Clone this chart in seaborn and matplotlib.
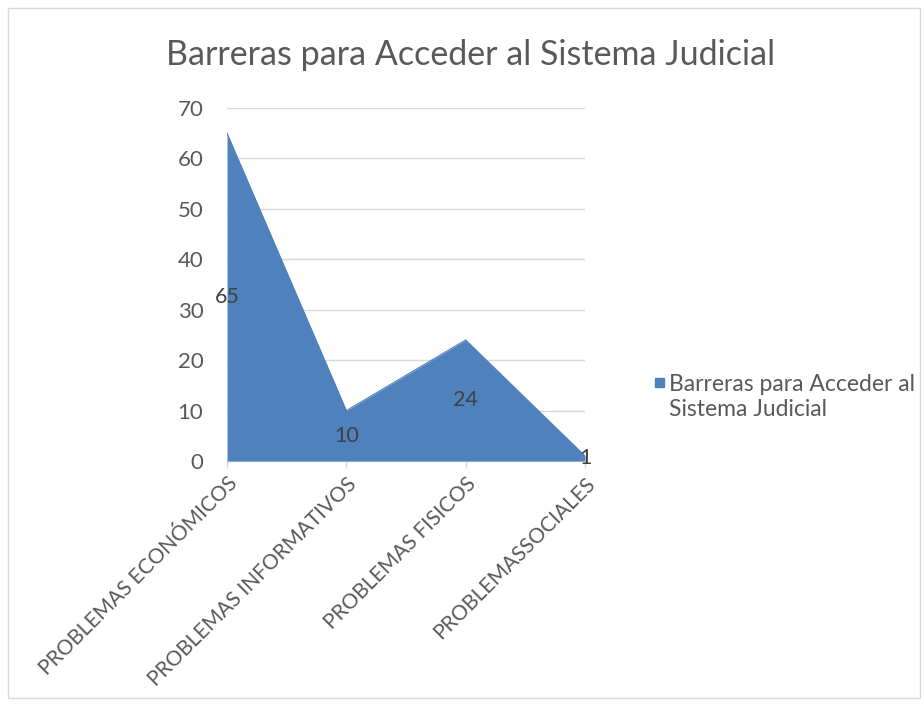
import numpy as np
import pandas as pd
import seaborn as sns
import matplotlib.pyplot as plt
from matplotlib.patches import Rectangle

# Chart data
categories = ['PROBLEMAS ECONÓMICOS', 'PROBLEMAS INFORMATIVOS', 'PROBLEMAS FISICOS', 'PROBLEMASSOCIALES']
values = [65, 10, 24, 1]
series_name = 'Barreras para Acceder al Sistema Judicial'
title = 'Barreras para Acceder al Sistema Judicial'
y_ticks = [0, 10, 20, 30, 40, 50, 60, 70]

df = pd.DataFrame({'cat': categories, 'val': values})
df['pos'] = np.arange(len(df))

sns.set_theme(style="white")
plt.rcParams['font.family'] = ['Lato', 'DejaVu Sans']

fill_color = '#4F81BD'
text_color = '#595959'

fig = plt.figure(figsize=(9.24, 7.05), dpi=100)
ax = fig.add_axes([0.2457, 0.3461, 0.3874, 0.5007])

# area: edge line through seaborn, fill below it
sns.lineplot(data=df, x='pos', y='val', ax=ax, color=fill_color, linewidth=0.8)
ax.fill_between(df['pos'], df['val'], 0, color=fill_color, linewidth=0, zorder=2)

# data labels at half height (Excel area chart style)
for p, v in zip(df['pos'], df['val']):
    ax.text(p, v / 2, str(v), ha='center', va='center', fontsize=15.5, color='#404040', zorder=3)

ax.set_xlim(0, len(categories) - 1)
ax.set_ylim(0, 70)
ax.set_yticks(y_ticks)
ax.set_xticks(df['pos'])
ax.set_xticklabels(categories, rotation=45, ha='right', rotation_mode='anchor',
                   fontsize=15, color=text_color)
ax.tick_params(axis='y', labelsize=16, labelcolor=text_color, length=0, pad=17)
ax.tick_params(axis='x', length=5, color='#D9D9D9', width=1, pad=4, bottom=True)
ax.yaxis.grid(True, color='#D9D9D9', linewidth=1)
ax.set_axisbelow(True)
ax.set_xlabel('')
ax.set_ylabel('')
for side in ['top', 'right', 'left']:
    ax.spines[side].set_visible(False)
ax.spines['bottom'].set_color('#D9D9D9')
ax.spines['bottom'].set_linewidth(1)
ax.spines['bottom'].set_zorder(1)

fig.text(0.509, 0.922, title, ha='center', va='center', fontsize=24.5, color=text_color)

# legend
fig.patches.append(Rectangle((655 / 924, 1 - 387 / 705), 9 / 924, 9 / 705,
                             transform=fig.transFigure, color=fill_color))
fig.text(669 / 924, 1 - 397 / 705, 'Barreras para Acceder al\nSistema Judicial',
         ha='left', va='center', fontsize=16.5, color=text_color, linespacing=1.2)

# chart border
fig.patches.append(Rectangle((8 / 924, 7 / 705), 912 / 924, 690 / 705,
                             transform=fig.transFigure, fill=False,
                             edgecolor='#D9D9D9', linewidth=1))

fig.savefig('out.png', dpi=100, facecolor='white')
